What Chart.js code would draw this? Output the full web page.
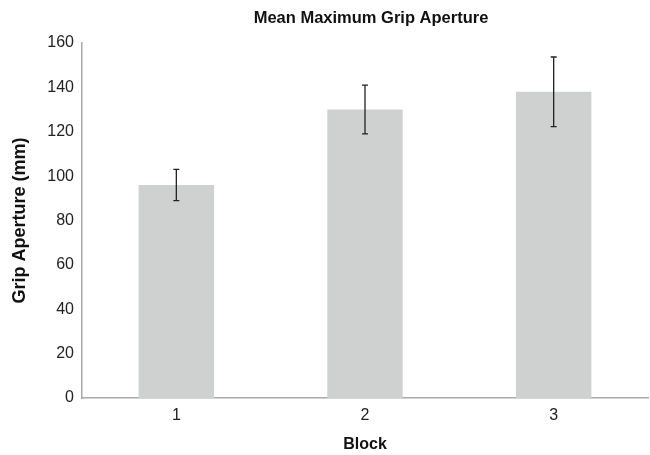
<!DOCTYPE html>
<html>
<head>
<meta charset="utf-8">
<script src="https://cdn.jsdelivr.net/npm/chart.js@4"></script>
<style>
html,body{margin:0;padding:0;background:#fff;}
#wrap{width:650px;height:455px;}
</style>
</head>
<body>
<div id="wrap"><canvas id="c" width="650" height="455"></canvas></div>
<script>
const categories = ['1', '2', '3'];
const meanValues = [96, 130, 138];
const errorValues = [7, 11, 15.7];
const yTicks = [0, 20, 40, 60, 80, 100, 120, 140, 160];

const FONT = 'Liberation Sans, Arial, Helvetica, sans-serif';

const errorBarPlugin = {
  id: 'errorBars',
  afterLayout(chart) {
    if (chart.titleBlock) { chart.titleBlock.left += 12; }
  },
  afterDatasetsDraw(chart) {
    const ctx = chart.ctx;
    const meta = chart.getDatasetMeta(0);
    const y = chart.scales.y;
    ctx.save();
    ctx.strokeStyle = '#222';
    ctx.lineWidth = 1.3;
    meta.data.forEach((bar, i) => {
      const x = bar.x;
      const top = y.getPixelForValue(meanValues[i] + errorValues[i]);
      const bot = y.getPixelForValue(meanValues[i] - errorValues[i]);
      ctx.beginPath();
      ctx.moveTo(x, top); ctx.lineTo(x, bot);
      ctx.moveTo(x - 3, top); ctx.lineTo(x + 3, top);
      ctx.moveTo(x - 3, bot); ctx.lineTo(x + 3, bot);
      ctx.stroke();
    });
    ctx.restore();
  }
};

new Chart(document.getElementById('c'), {
  type: 'bar',
  data: {
    labels: categories,
    datasets: [{
      data: meanValues,
      backgroundColor: '#cfd1d0',
      borderWidth: 0,
      categoryPercentage: 1,
      barPercentage: 0.40
    }]
  },
  options: {
    responsive: false,
    animation: false,
    layout: { padding: { left: 0, right: 2, top: 0, bottom: 0 } },
    plugins: {
      legend: { display: false },
      tooltip: { enabled: false },
      title: {
        display: true,
        fullSize: false,
        text: 'Mean Maximum Grip Aperture',
        color: '#111',
        font: { family: FONT, size: 16.5, weight: 'bold' },
        padding: { top: 9, bottom: 14.2 }
      }
    },
    scales: {
      x: {
        offset: true,
        grid: { display: false, drawTicks: false },
        border: { display: true, color: '#aaaaaa', width: 1.5 },
        ticks: {
          color: '#222',
          padding: 8,
          font: { family: FONT, size: 16 }
        },
        title: {
          display: true,
          text: 'Block',
          color: '#111',
          font: { family: FONT, size: 16, weight: 'bold' },
          padding: { top: 4, bottom: 0.5 }
        },
        afterFit(scale) { scale.height = 57; }
      },
      y: {
        min: 0,
        max: 160,
        afterBuildTicks(scale) { scale.ticks = yTicks.map(v => ({ value: v })); },
        grid: { display: false, drawTicks: false },
        border: { display: true, color: '#aaaaaa', width: 1.5 },
        ticks: {
          color: '#222',
          padding: 8,
          font: { family: FONT, size: 16 }
        },
        title: {
          display: true,
          text: 'Grip Aperture (mm)',
          color: '#111',
          font: { family: FONT, size: 18, weight: 'bold' },
          padding: { top: 9, bottom: 4 }
        },
        afterFit(scale) { scale.width = 82; }
      }
    }
  },
  plugins: [errorBarPlugin]
});
</script>
</body>
</html>
